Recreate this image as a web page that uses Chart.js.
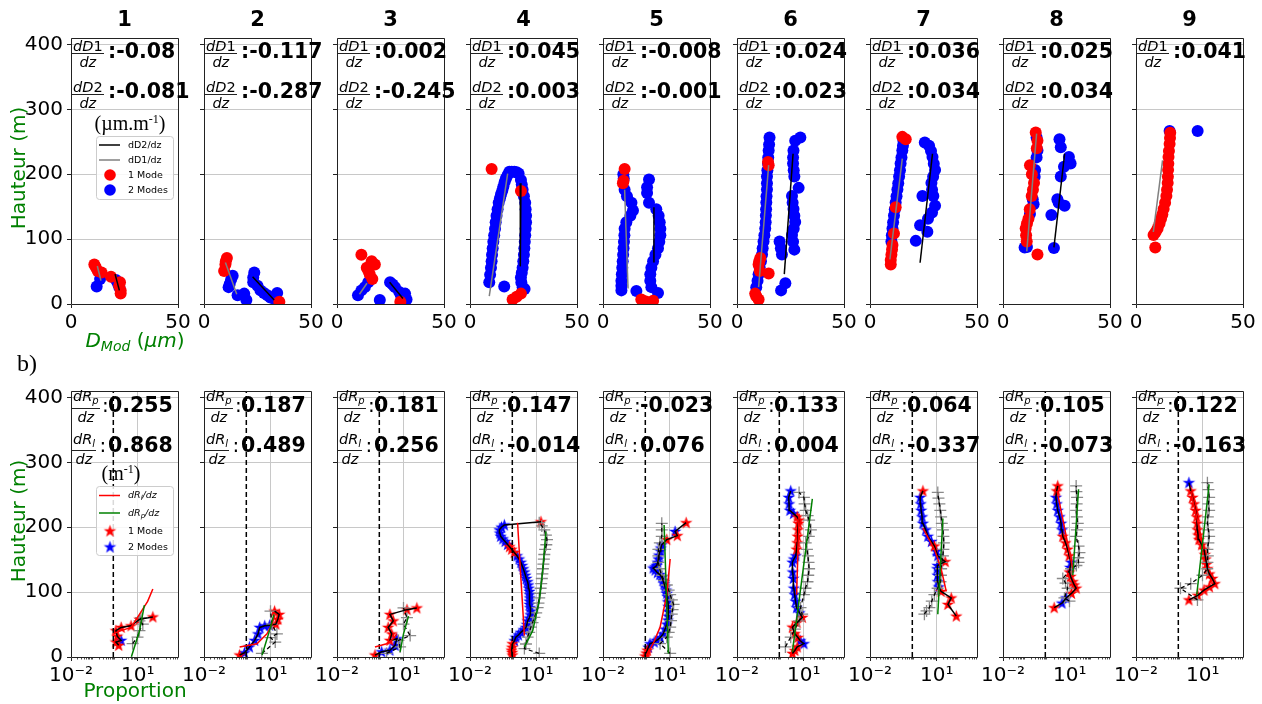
<!DOCTYPE html>
<html><head><meta charset="utf-8"><title>Profils verticaux</title>
<script src="https://cdn.jsdelivr.net/npm/chart.js@4.4.1/dist/chart.umd.min.js"></script>
<style>
html,body{margin:0;padding:0;background:#fff;}
body{position:relative;width:1262px;height:704px;overflow:hidden;font-family:'DejaVu Sans',sans-serif;color:#000;}
canvas{position:absolute;}
.t{position:absolute;white-space:nowrap;line-height:1;}
</style></head><body>
<script>
// ---------------- DATA ----------------
const panelNames = ['1','2','3','4','5','6','7','8','9'];
const slopeD1 = [':-0.08',':-0.117',':0.002',':0.045',':-0.008',':0.024',':0.036',':0.025',':0.041'];
const slopeD2 = [':-0.081',':-0.287',':-0.245',':0.003',':-0.001',':0.023',':0.034',':0.034',null];
const slopeRp = ['0.255','0.187','0.181','0.147','-0.023','0.133','0.064','0.105','0.122'];
const slopeRl = ['0.868','0.489','0.256','-0.014','0.076','0.004','-0.337','-0.073','-0.163'];
const yTicks = [0,100,200,300,400];
const topXTicks = [0,50];
const logTicks = [0.01,10];
const logTickLabels = ['10\u207B\u00B2','10\u00B9'];
const thresholdX = 0.8;

// top row: D_Mod (um) vs height (m)
const topRed = [
 [[10.9,61],[11.5,57],[12.5,51],[14.3,48.6],[18.7,42],[22.9,33.5],[22.5,28],[23.2,21],[23.2,16]],
 [[10.7,71],[10.2,66],[10,61],[9.4,51],[35.2,3.5]],
 [[11.4,76],[16.2,66],[17.7,61],[13.9,56],[14.7,51],[15.3,46],[16.5,38.6],[29.6,3.5]],
 [[10.1,208],[23.8,174],[19.9,7],[21.8,11],[23.8,16]],
 [[10.1,208],[9.6,190],[9.3,186],[17.9,7],[20,4],[23.4,5]],
 [[14.5,219],[14.8,214],[10.9,71],[10.4,66],[10.1,61],[10.6,51],[14.8,47],[8.5,16],[9.0,12],[10.1,7]],
 [[15.1,257.6],[16.7,254],[12.0,149],[11.2,108.7],[10.5,91],[10.3,84],[10.0,76],[9.7,68],[9.7,61]],
 [[15.3,264.2],[16.1,251.6],[15.8,240],[12.6,214],[13.5,200],[14.5,186.5],[14.0,176],[13.4,166.5],[12.5,146],[11.9,131.3],[11.2,124],[10.6,116.2],[10.8,106],[11.1,96.2],[16.1,76.2]],
 [[16.0,264],[15.9,256],[15.7,246.6],[15.4,236],[15.2,226.6],[15.1,216],[15.0,206.5],[14.9,196],[14.8,186.5],[14.5,176],[14.2,166.5],[13.6,156],[12.9,146.3],[12.3,138],[11.7,131.3],[11.0,124],[10.1,116.2],[9.2,111],[8.2,106.3],[9.0,87.2]]
];
const topBlue = [
 [[12,27],[13.6,38.6],[21,37],[22,31],[22.6,26]],
 [[13.4,43.6],[12.7,38],[12,31],[11.5,26],[15.7,13.5],[18.8,16],[19.8,6],[23.5,48.6],[23,41],[23,33.5],[25,28],[26.4,21],[28,17],[29.6,13.5],[31,10],[32.6,8.5],[34.2,17]],
 [[9.8,13.5],[11.4,21],[13,26],[14.6,33.5],[20,6],[24.8,33.5],[26,30],[27.1,26],[29.1,18.5],[30,12],[31.8,16],[32.5,7]],
 [[9.0,33.5],[9.4,45],[9.8,56],[10.1,66],[10.3,76],[10.6,86],[10.9,96],[11.3,106],[11.7,116],[12.0,126],[12.4,136],[12.9,146],[13.4,156],[14.0,163],[14.5,169],[15.1,175],[15.6,181],[16.2,188],[16.8,194],[17.6,199],[18.4,204],[19.5,204],[20.7,204],[21.8,203],[22.7,201],
  [23.8,191],[24.2,184],[24.6,176],[25.2,166],[25.8,156],[26.0,146],[26.2,136],[26.2,126],[26.0,116],[25.8,106],[25.6,96],[25.4,86],[25.2,76],[24.9,66],[24.6,56],[24.2,48],[23.8,41],[24.0,33],[24.6,26],[25.5,23],[16,27]],
 [[8.6,21],[8.6,28],[8.6,36],[8.8,46],[9.0,56],[9.2,66],[9.4,76],[9.6,86],[9.8,96],[10.0,106],[10.1,116],[10.9,126],[12.8,136],[14.0,144],[13.3,156],[11.2,166],[10.1,176],[9.7,194],[9.5,200],
  [21.5,192],[20.6,180],[20.6,171],[21.5,156],[24.9,146],[26,136],[26.5,126],[26.8,116],[26.8,106],[26.3,96],[25.7,86],[24.5,76],[23.4,66],[22.6,56],[22.1,46],[22.1,36],[22.6,26],[25.7,17],[15.6,20]],
 [[15.2,256.6],[15,246],[14.8,236.6],[14.6,226],[14.5,216.5],[14.2,206],[14.0,196.5],[14.0,186],[14.0,176.4],[13.8,166],[13.7,156.4],[13.6,146],[13.5,136.4],[13.4,126],[13.2,116.2],[12.8,106],[12.4,96.2],[12.0,86],[11.7,76.2],[11.2,66],[10.6,56],[10.1,46],[9.6,36],[9.0,26],
  [29.6,256.6],[27.2,251.6],[26.4,236.6],[26.2,226],[26.2,216.5],[26.5,206],[26.8,196.5],[28.8,179],[25.7,166.5],[26.0,156],[26.4,146.3],[26.8,136],[27.2,126.3],[26.5,116],[25.7,106.3],[26.2,96],[26.8,83.8],[19.9,96.2],[20.5,86],[21.0,76.2],[22.6,32],[20.6,21]],
 [[15.6,251.6],[15.4,244],[15.1,236.6],[14.7,226],[14.3,216.5],[14.0,206],[13.6,196.5],[13.2,186],[12.8,176.4],[12.4,166],[12.0,156.4],[11.6,146],[11.2,136.4],[10.8,126],[10.5,116.2],[10.2,106],[10.0,96.2],
  [25.6,249],[27.6,244],[28.5,236],[29.2,226.6],[29.8,216],[30.4,206.5],[29.5,196],[28.7,186.5],[29.0,176],[29.6,166.5],[24.5,166.5],[30.4,151.4],[29,141],[27.1,131.3],[23.4,121.3],[26.8,111.3],[21.4,97.3]],
 [[15.7,256.6],[16.1,236.6],[15.7,226],[15.0,206.5],[14.8,196],[13.9,161.3],[14.3,153.8],[12.6,138.8],[10.1,87.2],[11.2,88],
  [26.4,254],[27.0,241.6],[30.8,226.6],[31.6,216.5],[28.5,211.5],[27.0,196.5],[25.4,161.4],[26,156],[28.8,151.4],[22.6,137.3],[23.8,86.2]],
 [[15.7,266.6],[28.8,266.6]]
];
const topD1Fit = [
 [[12.3,58.6],[14,36]], [[10,64],[15.3,15]], [[10.5,15],[14,32]], [[9,12],[17.6,201]], [[10.1,176],[11.7,24]],
 [[14.8,214],[10.1,26]], [[15.1,224],[9.3,68.7]], [[15.7,262.7],[11.1,81.2]], [[12.4,221.5],[8.1,111]]
];
const topD2Fit = [
 [[20.6,46],[22.6,21]], [[22.7,42],[32.8,6]], [[24.6,33.5],[30.8,8.5]], [[23.8,186],[23.5,58]], [[23.8,149],[23.8,64]],
 [[26.2,231.6],[22.1,46]], [[29.2,231.6],[23.4,63.6]], [[28.8,231.6],[23.8,87.2]], []
];

// bottom row: proportion (log) vs height; stars = [x, y, mode]
const botStars = [
 [[1.4,18,1],[1.05,23,1],[1.8,25.6,2],[1.2,32,1],[1.05,40.6,1],[1.8,45.6,1],[5,48,1],[12,58,1],[48,61.7,1]],
 [[0.4,3,1],[0.66,6.5,2],[1.1,15.5,2],[1.9,25.6,2],[2.7,35.6,2],[3.2,45.6,2],[5.4,48,2],[9,49,2],[17,50.6,1],[21,58,1],[24,65.7,1],[15,70.7,1]],
 [[0.51,3,1],[1.02,8,2],[2.4,10.5,2],[4.1,18,2],[4.9,28,2],[2.4,25.6,1],[2.9,35.6,1],[2.0,45.6,1],[3.4,55.6,1],[2.4,65.7,1],[14,73,1],[39,75.6,1]],
 [[0.81,3,1],[0.78,7,1],[0.74,10.5,1],[0.78,15,1],[0.81,20.5,1],[1.0,25,2],[1.15,30.5,2],[1.5,34,2],[1.95,38,2],[2.6,42,2],[3.3,45.6,2],[3.6,50,2],[3.9,55.6,2],[4.6,60,2],[5.2,65,2],[5.5,70.7,2],[5.0,76,2],[4.8,81,2],[4.7,86,2],[4.9,91,2],[4.8,96,2],[4.7,101,2],[4.4,106,2],[4.2,111,2],[3.9,116,2],[3.4,121,2],[3.1,126,2],[2.8,131,2],[2.5,136,2],[2.2,141,2],[1.95,146,2],[1.6,151,2],[1.3,156,2],[0.98,161,1],[0.75,166,1],[0.6,170,1],[0.49,173.4,2],[0.38,178,2],[0.3,182,2],[0.24,186,2],[0.22,191,2],[0.21,196,2],[0.26,200,2],[0.35,203.5,2],[15.6,208.5,1]],
 [[0.78,1.5,1],[0.88,6,1],[0.98,10.5,1],[1.1,15,2],[1.3,20.5,2],[2.0,23,2],[2.6,25.6,2],[3.8,30,2],[5.1,35.6,2],[6.2,43,2],[7.4,50.6,2],[8.2,57,2],[8.7,63,2],[8.7,70,2],[8.7,78,2],[8.3,85,2],[7.9,93,2],[7.4,98,2],[6.9,103,2],[6.2,108,2],[5.6,113,2],[5.0,118,2],[4.4,123,2],[3.6,127,2],[2.8,130,2],[2.2,134,2],[1.8,137,2],[2.2,139,2],[2.6,141,2],[2.9,146,2],[3.1,151,2],[3.3,157,2],[3.7,163.5,2],[4.0,168,2],[4.4,173,2],[7.4,181,1],[22,187,1],[17.5,193.5,2],[55,207,1]],
 [[3.1,5.5,1],[4.0,10,1],[5.1,15.5,1],[10.2,20.5,2],[7,25,2],[5.5,30,1],[4.0,36,1],[3.1,46,1],[5.0,53,1],[8.7,61,1],[6.5,68,2],[4.8,76,2],[4.3,86,2],[3.9,96,2],[3.6,106,2],[3.4,121,2],[3.2,131,2],[3.1,146,2],[3.6,151,2],[4.4,156,2],[4.8,166,1],[5.1,176,1],[5.3,186,1],[5.5,196,1],[5.8,206,1],[6.2,211,1],[5.1,216,1],[3.5,221,2],[2.4,226,2],[2.2,236,2],[2.1,246,2],[2.6,256,2]],
 [[76,63,1],[32,81,1],[45,91,1],[15.8,101,1],[12.5,108,2],[11.2,116,2],[10.8,126,2],[10.4,136,2],[11,141,2],[24,147,1],[11.2,156,2],[9.5,163,2],[7.9,171,1],[5.8,178,2],[4.0,186,2],[3.2,196,2],[2.4,206,2],[2.2,216,2],[2.0,226,2],[1.9,236,2],[1.8,246,2],[2.4,256,1]],
 [[2.0,76,1],[4.5,83,2],[6.9,91,2],[12,98,1],[19.5,106,1],[16,111,1],[13.8,116,1],[11,124,1],[9.8,131,1],[10.5,138,2],[11.5,146,2],[9.5,156,1],[8.1,166,1],[6.5,176,1],[4.9,186,1],[4.5,196,2],[4.1,206,2],[3.5,216,2],[2.9,226,2],[2.6,236,2],[2.4,246,2],[2.6,256,1],[2.9,263.7,1]],
 [[2.4,88,1],[6,95,1],[11.4,103,1],[20,108,1],[35,113,1],[27,121,1],[20,128,1],[16.3,136,1],[15,143,1],[13.7,151,1],[12.5,158,1],[11.4,166,1],[9,173,1],[6.8,181,1],[6.2,188,1],[5.8,196,1],[5.6,206,1],[5.4,216,1],[4.8,226,1],[4.1,236,1],[3.5,246,1],[2.9,256,1],[2.4,268.7,2]]
];
const botPlus = [
 [[5.9,20.5],[9.8,30.5],[12,40.6],[17,50.6],[12,55.6],[14,60.6]],
 [[4,5.5],[16,23],[9.8,30],[19,35.6],[11.5,50.6],[9.8,70.7]],
 [[1.7,5.5],[6.9,15.5],[5.8,25.6],[19.5,33],[9.8,50.6],[14,60.6],[9.8,75.6]],
 [[13,5.5],[2.8,13],[3.3,20],[3.9,30.5],[4.6,38],[5.5,46],[6.5,53],[7.9,61],[9.5,68],[11,76],[12,83],[13,91],[14,98],[15,106],[16,113],[17,121],[18,128],[19,136],[20,143],[21,151],[22,158],[24,166],[27,173],[29,181],[26,188],[22,196],[17,202],[13,207]],
 [[10.5,5.5],[3.7,20.5],[7.4,30.5],[9,38],[10.5,46],[11.5,56],[12.4,66],[13.5,73],[15,81],[12.5,88],[10.5,96],[9,103],[7.4,111],[5.5,118],[4.4,126],[3.5,136],[3.1,146],[3.1,156],[3.1,166],[3.6,176],[4.4,186],[4.4,196],[4.4,206]],
 [[1.5,15.5],[2.6,30.5],[4,43],[6.2,55.6],[8.5,66],[7.2,76],[10.2,96],[12,106],[14.8,116],[16,126],[17.5,136],[16.5,146],[15.5,156],[14,166],[12.3,176],[17,186],[21,196],[17.5,211],[15,218],[12.3,226],[11,236],[10.2,246],[6.2,253.6]],
 [[2.8,66],[3.5,71],[4.7,76],[6,86],[7.9,96],[11,106],[14.8,116],[15.5,126],[15.8,136],[17,146],[19,156],[20,166],[21,176],[20,186],[19,196],[17,206],[15.8,216],[14.5,226],[13.2,236],[12,245],[11.2,253.6]],
 [[9.8,86],[5.8,91],[8.1,106],[6.5,114],[4.9,121],[11.5,136],[20,141],[25,146],[24,153],[27.5,161],[25,171],[19.5,186],[21,196],[23,206],[21,216],[19.5,226],[20.5,236],[21.5,246],[20,255],[19.5,263.7]],
 [[5.8,88],[1.0,106],[2.9,113],[9.8,126],[16,136],[16.3,146],[17,156],[16.3,166],[18,176],[19.5,186],[18,196],[16.3,206],[17,216],[19.5,226],[18,236],[19.5,246],[18,258],[16.3,268.7]]
];
const botRlFit = [
 [[0.74,35.6],[1.8,40.6],[5,45.6],[12,65.7],[28,85.7],[48,104.8]],
 [[0.4,15.5],[2.4,20.5],[6.8,35.6],[11.5,50.6],[16,65.7]],
 [[0.51,15.5],[1.7,20.5],[3.4,28],[4.9,35.6]],
 [[1.38,207],[1.95,121],[2.8,33]],
 [[0.9,3],[1.8,20.5],[3.7,46],[7.4,96],[10.5,151]],
 [[6.2,221],[4.8,96]],
 [[2.4,198.5],[7.9,166],[15.8,136],[27,101]],
 [[2.7,256],[13.8,136]],
 [[2.9,256],[11.4,166]]
];
const botRpFit = [
 [[5.2,0.5],[12,40],[20,80]],
 [[4.1,3],[9.8,45.6],[14,65.7]],
 [[6.9,8],[9.8,35.6],[16.5,63]],
 [[26,193.5],[19,136],[13,86],[6.6,40.6],[2.8,15.5]],
 [[5.6,203.5],[8.7,5.5]],
 [[24.5,243.6],[3.1,8]],
 [[19,213.5],[11.2,66]],
 [[25,258.6],[13.8,126]],
 [[19.5,266],[5.4,96]]
];

// ---------------- LAYOUT ----------------
const LEFTS = [71,204,337,470,603,737,870,1003,1136];
const W = 107, H = 272, TOP1 = 32, TOP2 = 385;
const PL = 60, PR = 25, PT = 10, PB = 40;
const RED = '#ff0000', BLUE = '#0000ff', GREEN = '#008000', GRAY = '#808080';

Chart.defaults.font.family = "'DejaVu Sans'";
Chart.defaults.color = '#000';

const toXY = a => a.map(p => ({x:p[0], y:p[1]}));

function starImg(color){
  const c = document.createElement('canvas'); c.width = 15; c.height = 15;
  const g = c.getContext('2d'); g.fillStyle = color; g.beginPath();
  for (let i = 0; i < 10; i++){
    const r = (i % 2) ? 2.6 : 6.6; const a = -Math.PI/2 + i*Math.PI/5;
    g.lineTo(7.5 + r*Math.cos(a), 7.8 + r*Math.sin(a));
  }
  g.closePath(); g.fill(); return c;
}
const STAR_R = starImg(RED), STAR_B = starImg(BLUE);

function mkCanvas(L, T){
  const c = document.createElement('canvas');
  c.width = PL + W + PR; c.height = PT + H + PB;
  c.style.left = (L - PL) + 'px'; c.style.top = (T - PT) + 'px';
  c.style.width = c.width + 'px'; c.style.height = c.height + 'px';
  document.body.appendChild(c); return c;
}

const ap = p => Math.round(p - 0.5) + 0.5;
const framePlugin = {
  id:'frame',
  afterDatasetsDraw(chart){
    const g = chart.ctx, a = chart.chartArea;
    g.save(); g.strokeStyle = '#222'; g.lineWidth = 1;
    const l = ap(a.left), r = ap(a.right), t = ap(a.top), b = ap(a.bottom);
    g.beginPath(); g.moveTo(l,t); g.lineTo(r,t); g.lineTo(r,b); g.lineTo(l,b); g.closePath(); g.stroke();
    g.restore();
  }
};
const minorPlugin = {
  id:'minor',
  afterDatasetsDraw(chart){
    const g = chart.ctx, a = chart.chartArea, s = chart.scales.x;
    g.save(); g.strokeStyle = '#222'; g.lineWidth = 0.8;
    for (let n = -2; n <= 2; n++) for (let k = 2; k <= 9; k++){
      const v = k*Math.pow(10,n); if (v < s.min || v > s.max) continue;
      const px = ap(s.getPixelForValue(v));
      g.beginPath(); g.moveTo(px, a.bottom); g.lineTo(px, a.bottom + 2.5); g.stroke();
    }
    g.restore();
  }
};
function legendPlugin(kind, ox, oy){
  return { id:'lg', afterDatasetsDraw(chart){
    const g = chart.ctx; g.save(); g.translate(-ox, -oy);
    const bx = kind === 'top' ? [96,136,77,63] : [96,486,77,69];
    g.beginPath(); g.roundRect(bx[0]+0.5, bx[1]+0.5, bx[2], bx[3], 3);
    g.fillStyle = 'rgba(255,255,255,0.85)'; g.fill(); g.strokeStyle = '#cccccc'; g.lineWidth = 1; g.stroke();
    g.lineWidth = 1.5;
    if (kind === 'top'){
      g.strokeStyle = '#000'; g.beginPath(); g.moveTo(99,145); g.lineTo(120,145); g.stroke();
      g.strokeStyle = GRAY; g.beginPath(); g.moveTo(99,160); g.lineTo(120,160); g.stroke();
      g.fillStyle = RED; g.beginPath(); g.arc(110,175,5.8,0,Math.PI*2); g.fill();
      g.fillStyle = BLUE; g.beginPath(); g.arc(110,190,5.8,0,Math.PI*2); g.fill();
    } else {
      g.strokeStyle = RED; g.beginPath(); g.moveTo(99,495.5); g.lineTo(120,495.5); g.stroke();
      g.strokeStyle = GREEN; g.beginPath(); g.moveTo(99,513); g.lineTo(120,513); g.stroke();
      g.drawImage(STAR_R, 110-7.5, 531-7.5); g.drawImage(STAR_B, 110-7.5, 547-7.5);
    }
    g.restore();
  }};
}

function yScale(show){
  return { type:'linear', min:0, max:410,
    afterFit: s => { s.width = PL; },
    afterBuildTicks: s => { s.ticks = yTicks.map(v => ({value:v})); },
    ticks:{ autoSkip:false, padding:4, color:'#000', font:{size:20}, callback: v => show ? String(v) : '' },
    grid:{ color:'#c8c8c8', lineWidth:1, tickColor:'#222', tickLength:4 },
    border:{ display:false } };
}
function xTicksCommon(){ return { autoSkip:false, maxRotation:0, minRotation:0, padding:3, color:'#000', font:{size:20} }; }

function baseOptions(xs, ys){
  return { responsive:false, maintainAspectRatio:false, animation:false, events:[],
    layout:{ padding:{ left:0, top:PT, right:PR, bottom:0 } },
    plugins:{ legend:{display:false}, tooltip:{enabled:false}, title:{display:false} },
    scales:{ x: xs, y: ys } };
}

// ---------------- TOP ROW ----------------
for (let i = 0; i < 9; i++){
  const L = LEFTS[i];
  const c = mkCanvas(L, TOP1);
  const ds = [];
  ds.push({ data: toXY(topD1Fit[i]), showLine:true, borderColor:GRAY, borderWidth:1.5, pointRadius:0, order:0, clip:0 });
  if (topD2Fit[i].length) ds.push({ data: toXY(topD2Fit[i]), showLine:true, borderColor:'#000', borderWidth:1.5, pointRadius:0, order:1, clip:0 });
  ds.push({ data: toXY(topRed[i]), pointRadius:6, pointBackgroundColor:RED, pointBorderColor:RED, pointBorderWidth:0, order:2, clip:0 });
  ds.push({ data: toXY(topBlue[i]), pointRadius:6, pointBackgroundColor:BLUE, pointBorderColor:BLUE, pointBorderWidth:0, order:3, clip:0 });
  const xs = { type:'linear', min:0, max:50,
    afterFit: s => { s.height = PB; },
    afterBuildTicks: s => { s.ticks = topXTicks.map(v => ({value:v})); },
    ticks: xTicksCommon(),
    grid:{ color:'#c8c8c8', tickColor:'#222', tickLength:4 }, border:{display:false} };
  const plugins = [framePlugin];
  if (i === 0) plugins.push(legendPlugin('top', L - PL, TOP1 - PT));
  new Chart(c, { type:'scatter', data:{datasets:ds}, options: baseOptions(xs, yScale(i === 0)), plugins });
}

// ---------------- BOTTOM ROW ----------------
for (let i = 0; i < 9; i++){
  const L = LEFTS[i];
  const c = mkCanvas(L, TOP2);
  const st = botStars[i];
  const ds = [
    { data: toXY(botRpFit[i]), showLine:true, borderColor:GREEN, borderWidth:1.5, pointRadius:0, order:0, clip:0 },
    { data: toXY(botRlFit[i]), showLine:true, borderColor:RED, borderWidth:1.5, pointRadius:0, order:1, clip:0 },
    { data: toXY(st), showLine:true, borderColor:'#000', borderWidth:1.5, pointRadius:0, order:2, clip:0 },
    { data: toXY(botPlus[i]), showLine:true, borderColor:'#000', borderWidth:1.3, borderDash:[4,3], pointRadius:0, order:3, clip:0 },
    { data: [{x:thresholdX, y:0},{x:thresholdX, y:410}], showLine:true, borderColor:'#000', borderWidth:1.5, borderDash:[5,3], pointRadius:0, order:4, clip:0 },
    { data: toXY(botPlus[i]), pointStyle:'cross', pointRadius:6, pointBorderColor:'#8a8a8a', pointBorderWidth:1.3, order:5, clip:0 },
    { data: toXY(st.filter(p => p[2] === 1)), pointStyle:STAR_R, pointRadius:5, order:6, clip:0 },
    { data: toXY(st.filter(p => p[2] === 2)), pointStyle:STAR_B, pointRadius:5, order:7, clip:0 }
  ];
  const xs = { type:'logarithmic', min:0.01, max:650,
    afterFit: s => { s.height = PB; },
    afterBuildTicks: s => { s.ticks = logTicks.map(v => ({value:v, major:true})); },
    ticks: Object.assign(xTicksCommon(), { callback: (v, idx) => logTickLabels[idx] }),
    grid:{ color:'#c8c8c8', tickColor:'#222', tickLength:4 }, border:{display:false} };
  const plugins = [framePlugin, minorPlugin];
  if (i === 0) plugins.push(legendPlugin('bottom', L - PL, TOP2 - PT));
  new Chart(c, { type:'scatter', data:{datasets:ds}, options: baseOptions(xs, yScale(i === 0)), plugins });
}

// ---------------- TEXT ----------------
function addT(html, css){
  const d = document.createElement('div'); d.className = 't'; d.innerHTML = html; d.style.cssText += css;
  document.body.appendChild(d); return d;
}
function frac(num, den, left, top, padB){
  addT(`<div style="border-bottom:1px solid #222;padding:0 1px ${padB}px;line-height:14px">${num}</div><div style="line-height:14px;padding-top:1px">${den}</div>`,
    `left:${left}px;top:${top}px;display:flex;flex-direction:column;align-items:center;font-size:14.5px;font-family:'DejaVu Sans';`);
}
const sub = s => `<span style="font-size:10px;position:relative;top:3px;font-style:italic">${s}</span>`;

for (let i = 0; i < 9; i++){
  const L = LEFTS[i];
  addT(panelNames[i], `left:${L+53.5}px;top:19px;transform:translate(-50%,-50%);font-weight:bold;font-size:21px;`);
  frac('<i>dD</i>1', '<i>dz</i>', L+1, 38.5, 0);
  addT(slopeD1[i], `left:${L+37}px;top:51px;transform:translateY(-50%);font-weight:bold;font-size:20.5px;`);
  if (slopeD2[i]){
    frac('<i>dD</i>2', '<i>dz</i>', L+1, 79.5, 0);
    addT(slopeD2[i], `left:${L+37}px;top:91px;transform:translateY(-50%);font-weight:bold;font-size:20.5px;`);
  }
  frac('<i>dR</i>' + sub('p'), '<i>dz</i>', L+1, 389, 3);
  addT(':', `left:${L+31}px;top:405px;transform:translateY(-50%);font-size:20px;`);
  addT(slopeRp[i], `left:${L+37}px;top:405px;transform:translateY(-50%);font-weight:bold;font-size:20.5px;`);
  frac('<i>dR</i>' + sub('l'), '<i>dz</i>', L+1, 431.5, 2);
  addT(':', `left:${L+28.5}px;top:445px;transform:translateY(-50%);font-size:20px;`);
  addT(slopeRl[i], `left:${L+37}px;top:445px;transform:translateY(-50%);font-weight:bold;font-size:20.5px;`);
}

// legends text
const lgS = 'font-size:9.5px;transform:translateY(-50%);';
addT('dD2/dz', `left:128px;top:145px;${lgS}`);
addT('dD1/dz', `left:128px;top:160px;${lgS}`);
addT('1 Mode', `left:128px;top:175px;${lgS}`);
addT('2 Modes', `left:128px;top:190px;${lgS}`);
addT('<i>dR</i><span style="font-size:7px;position:relative;top:2px;font-style:italic">l</span><i>/dz</i>', `left:128px;top:495px;${lgS}`);
addT('<i>dR</i><span style="font-size:7px;position:relative;top:2px;font-style:italic">p</span><i>/dz</i>', `left:128px;top:513px;${lgS}`);
addT('1 Mode', `left:128px;top:531px;${lgS}`);
addT('2 Modes', `left:128px;top:547px;${lgS}`);

// units
addT('(\u00B5m.m<span style="font-size:12px;position:relative;top:-7px">-1</span>)', `left:130px;top:123px;transform:translate(-50%,-50%);font-family:'Liberation Serif';font-size:20px;`);
addT('(m<span style="font-size:12px;position:relative;top:-7px">-1</span>)', `left:121px;top:473px;transform:translate(-50%,-50%);font-family:'Liberation Serif';font-size:20px;`);

// axis labels
addT('Hauteur (m)', `left:18px;top:168px;transform:translate(-50%,-50%) rotate(-90deg);font-size:20px;color:${GREEN};`);
addT('Hauteur (m)', `left:18px;top:521px;transform:translate(-50%,-50%) rotate(-90deg);font-size:20px;color:${GREEN};`);
addT('<i>D</i><span style="font-size:14px;position:relative;top:4px;font-style:italic">Mod</span> (<i>\u03BCm</i>)', `left:135px;top:340px;transform:translate(-50%,-50%);font-size:20px;color:${GREEN};`);
addT('Proportion', `left:135px;top:690px;transform:translate(-50%,-50%);font-size:20px;color:${GREEN};`);
addT('b)', `left:17px;top:363px;transform:translateY(-50%);font-family:'Liberation Serif';font-size:24px;`);
</script>
</body></html>
